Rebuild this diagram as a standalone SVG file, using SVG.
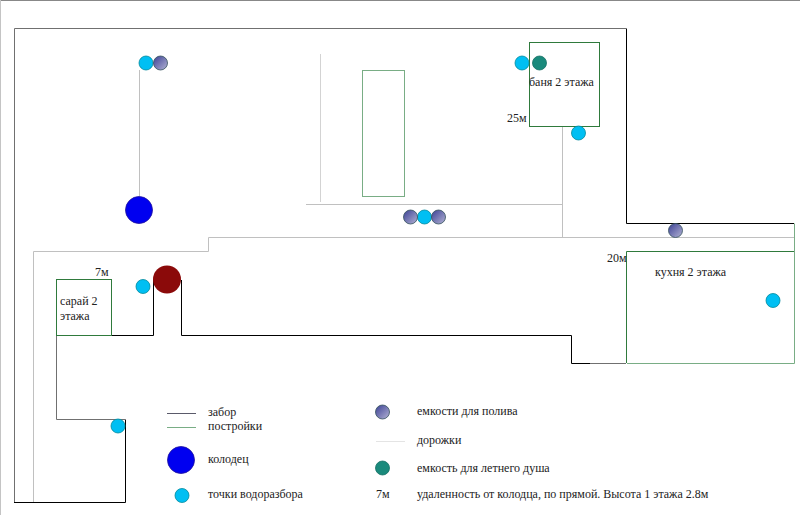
<svg xmlns="http://www.w3.org/2000/svg" width="800" height="515" viewBox="0 0 800 515">
<defs>
<linearGradient id="tankFill" x1="0" y1="0" x2="1" y2="1"><stop offset="0" stop-color="#3a3f94"/><stop offset="1" stop-color="#b4b4d4"/></linearGradient>
</defs>
<style>
text{font-family:"Liberation Serif","Times New Roman",serif;font-size:12px;fill:#222}
.f{fill:none;stroke:#000;stroke-width:1}
.g{fill:none;stroke:#707070;stroke-width:1}
.b{fill:none;stroke:#2f7a3c;stroke-width:1}
.l{fill:none;stroke:#79ad85;stroke-width:1}
.r{fill:none;stroke:#c0c0c0;stroke-width:1}
.w{fill:#00bff3;stroke:#00899c;stroke-width:.8}
.t{fill:url(#tankFill);stroke:#33505c;stroke-width:.8}
.s{fill:#1a8a7c;stroke:#157065;stroke-width:.8}
.k{fill:#0000f0;stroke:#20109a;stroke-width:.8}
</style>
<rect width="800" height="515" fill="#fff"/>
<path d="M0 .5H800" stroke="#888" fill="none"/>
<path d="M.5 0V515" stroke="#c4c4c4" fill="none"/>
<g id="connectors">
<path class="g" d="M14.500 502V28.500H626"/>
<path class="f" d="M626.500 28.500V223.500H794"/>
<path class="f" d="M14 502.500H125.500V419.500"/>
<path class="f" d="M181.500 280V335.500H571.500V363.500H590"/>
<path class="g" d="M590 363.500H626"/>
<path class="f" d="M153.500 280V335.500H111"/>
<path class="g" d="M56.500 335V419.500H125"/>
<path class="r" d="M33.500 502V251.500H208.500V237.500H794"/>
<path class="r" d="M562.500 127V237"/>
<path class="r" d="M306 204.500H562"/>
<path class="r" stroke-opacity=".7" d="M320.500 54V202"/>
<path class="r" d="M139.500 70V196"/>
<path class="l" d="M794.500 223.500V251"/>
</g>
<g id="shed"><rect class="b" x="56.500" y="279.500" width="55" height="56"/><text x="60" y="305">сарай 2</text><text x="60" y="320">этажа</text><text x="95" y="276">7м</text></g>
<g id="bath"><rect class="b" x="529.500" y="42.500" width="70" height="84"/><text x="529" y="86">баня 2 этажа</text><text x="507" y="122">25м</text></g>
<g id="kitchen"><path class="l" d="M627 363.500H794.500V251"/><path class="b" d="M794 251.500H626.500V363"/><text x="655" y="276">кухня 2 этажа</text><text x="607" y="262">20м</text></g>
<g id="building"><rect class="l" x="362.500" y="70.500" width="42" height="126"/></g>
<g id="well-main"><circle class="k" cx="139" cy="210" r="13.500"/></g>
<g id="well-old"><circle cx="167" cy="279.500" r="14" fill="#8b0a0a"/></g>
<g id="water-points">
<circle class="w" cx="146" cy="63" r="7"/><circle class="w" cx="424.500" cy="217" r="7"/><circle class="w" cx="522" cy="63" r="7"/><circle class="w" cx="578.500" cy="133" r="7"/><circle class="w" cx="773" cy="300.500" r="7"/><circle class="w" cx="143" cy="286.500" r="7"/><circle class="w" cx="118" cy="426" r="7"/>
</g>
<g id="tanks">
<circle class="t" cx="160.500" cy="63" r="7"/><circle class="t" cx="410.500" cy="217" r="7"/><circle class="t" cx="438.500" cy="217" r="7"/><circle class="t" cx="675.500" cy="230.500" r="7"/>
</g>
<g id="shower"><circle class="s" cx="539.500" cy="63" r="7"/></g>
<g id="legend">
<path d="M167 413.500H196" stroke="#5a5a6a" fill="none"/>
<path d="M167 427.500H196" stroke="#79ad85" fill="none"/>
<text x="208" y="416">забор</text><text x="208" y="430">постройки</text>
<circle class="k" cx="181" cy="460" r="13.500"/><text x="208" y="463">колодец</text>
<circle class="w" cx="182" cy="495.500" r="7"/><text x="208" y="498">точки водоразбора</text>
<circle class="t" cx="382.500" cy="412" r="7"/><text x="417" y="415">емкости для полива</text>
<path d="M376 441.500H405" stroke="#e4e4e4" fill="none"/><text x="417" y="444">дорожки</text>
<circle class="s" cx="382.500" cy="468" r="7"/><text x="417" y="472">емкость для летнего душа</text>
<text x="376" y="498">7м</text><text x="417" y="498">удаленность от колодца, по прямой. Высота 1 этажа 2.8м</text>
</g>
</svg>
